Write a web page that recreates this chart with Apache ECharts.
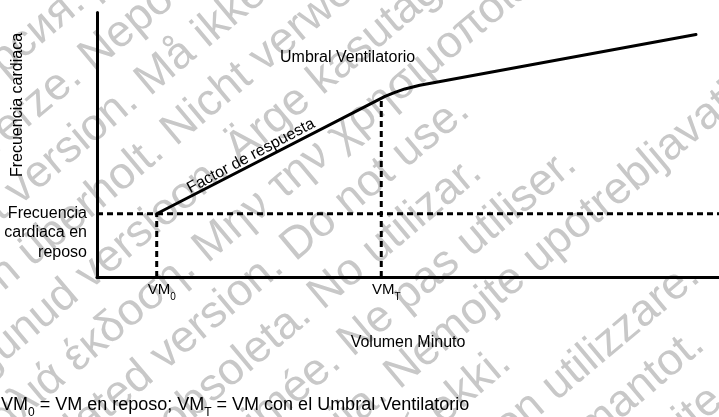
<!DOCTYPE html>
<html><head><meta charset="utf-8">
<script src="https://cdn.jsdelivr.net/npm/echarts@6/dist/echarts.min.js"></script>
<style>html,body{margin:0;padding:0;background:#fff}#c{width:719px;height:417px}</style>
</head><body><div id="c"></div>
<script>
// ---- data (arbitrary units: x = minute volume 0..100, y = heart rate 0..100) ----
const curveX = [9.6, 46.3, 47.9, 49.5, 51.9, 96.3];
const curveY = [23.9, 68.3, 69.8, 71.1, 72.5, 91.7];
const restHR = 23.9;
const vm0 = 9.6;
const vmT = 45.7;
const vmTTop = 66.7;
const xTickValues = [vm0, vmT];
const xTickLabels = ['{a|VM}{s|0}', '{a|VM}{s|T}'];
const yTickValues = [restHR];
const yTickLabels = ['Frecuencia\ncardiaca en\nreposo'];
const xAxisTitle = 'Volumen Minuto';
const yAxisTitle = 'Frecuencia cardiaca';
const thresholdLabel = 'Umbral Ventilatorio';
const slopeLabel = 'Factor de respuesta';
const footnote = '{a|VM}{s|0}{a| = VM en reposo; VM}{s|T}{a| = VM con el Umbral Ventilatorio}';
const watermarkLines = [
  'Остаряла версия. Да не се използва.',
  'Zastaralá verze. Nepoužívat.',
  'Forældet version. Må ikke anvendes.',
  'Version überholt. Nicht verwenden.',
  'Aegunud versioon. Ärge kasutage.',
  'Παλιά έκδοση. Μην την χρησιμοποιείτε.',
  'Outdated version. Do not use.',
  'Versión obsoleta. No utilizar.',
  'Version périmée. Ne pas utiliser.',
  'Zastarjela verzija. Nemojte upotrebljavati.',
  'Úrelt útgáfa. Notið ekki.',
  'Versione obsoleta. Non utilizzare.',
  'Novecojusi versija. Neizmantot.',
  'Pasenusi versija. Nenaudokite.'
];

const FONT = '"Liberation Sans", Arial, sans-serif';
const curve = curveX.map((x, i) => [x, curveY[i]]);
const black = '#000';
const dash = [6, 4];

const wmChildren = watermarkLines.map((t, i) => ({
  type: 'text', x: -310, y: 48 + 55 * i, z: 0,
  style: { text: t, fill: '#c8c8c8', font: '45px ' + FONT, align: 'left', verticalAlign: 'middle' }
}));

const chart = echarts.init(document.getElementById('c'), null, { renderer: 'canvas' });
chart.setOption({
  backgroundColor: '#fff',
  animation: false,
  textStyle: { fontFamily: FONT },
  grid: { left: 97, right: 0, top: 12.5, bottom: 140, containLabel: false },
  xAxis: {
    type: 'value', min: 0, max: 100, z: 5,
    name: xAxisTitle, nameLocation: 'middle', nameGap: 58,
    nameTextStyle: { fontSize: 16, color: black, fontFamily: FONT },
    axisLine: { show: true, lineStyle: { color: black, width: 3 } },
    axisTick: { show: false }, splitLine: { show: false },
    axisLabel: {
      customValues: xTickValues, margin: 1, padding: [0, 0, 0, 10],
      formatter: v => xTickLabels[xTickValues.indexOf(v)] || '',
      rich: {
        a: { fontSize: 15, lineHeight: 24, color: black, fontFamily: FONT },
        s: { fontSize: 10, lineHeight: 10, verticalAlign: 'bottom', color: black, fontFamily: FONT }
      }
    }
  },
  yAxis: {
    type: 'value', min: 0, max: 100, z: 5,
    axisLine: { show: true, lineStyle: { color: black, width: 3 } },
    axisTick: { show: false }, splitLine: { show: false },
    axisLabel: {
      customValues: yTickValues, margin: 10,
      // two blank lines so that the first text line sits on the tick
      formatter: v => '\n\n' + (yTickLabels[yTickValues.indexOf(v)] || ''),
      fontSize: 16, lineHeight: 19.3, color: black, fontFamily: FONT, align: 'right',
      verticalAlign: 'middle'
    }
  },
  series: [
    { type: 'line', data: [[0, restHR], [100, restHR]], symbol: 'none', z: 3,
      lineStyle: { color: black, width: 3, type: dash } },
    { type: 'line', data: [[vm0, 0], [vm0, restHR]], symbol: 'none', z: 3,
      lineStyle: { color: black, width: 3, type: dash } },
    { type: 'line', data: [[vmT, 0], [vmT, vmTTop]], symbol: 'none', z: 3,
      lineStyle: { color: black, width: 3, type: dash } },
    { type: 'line', data: curve, symbol: 'none', z: 4,
      lineStyle: { color: black, width: 3, join: 'round', cap: 'round' } }
  ],
  graphic: [
    { type: 'group', x: 0, y: 0, rotation: 40 * Math.PI / 180, z: 0, silent: true, children: wmChildren },
    { type: 'text', x: 18, y: 105, rotation: Math.PI / 2, z: 10,
      style: { text: yAxisTitle, fill: black, font: '16px ' + FONT, align: 'center', verticalAlign: 'middle' } },
    { type: 'text', x: 280, y: 57.5, z: 10,
      style: { text: thresholdLabel, fill: black, font: '16px ' + FONT, align: 'left', verticalAlign: 'middle' } },
    { type: 'text', x: 251, y: 156, rotation: 28 * Math.PI / 180, z: 10,
      style: { text: slopeLabel, fill: black, font: '16px ' + FONT, align: 'center', verticalAlign: 'middle' } },
    { type: 'text', x: 1, y: 392.5, z: 10,
      style: { text: footnote, align: 'left', verticalAlign: 'top',
        rich: {
          a: { fontSize: 18, lineHeight: 26, fill: black, fontFamily: FONT },
          s: { fontSize: 12, lineHeight: 12, verticalAlign: 'bottom', fill: black, fontFamily: FONT }
        } } }
  ]
});
</script></body></html>
